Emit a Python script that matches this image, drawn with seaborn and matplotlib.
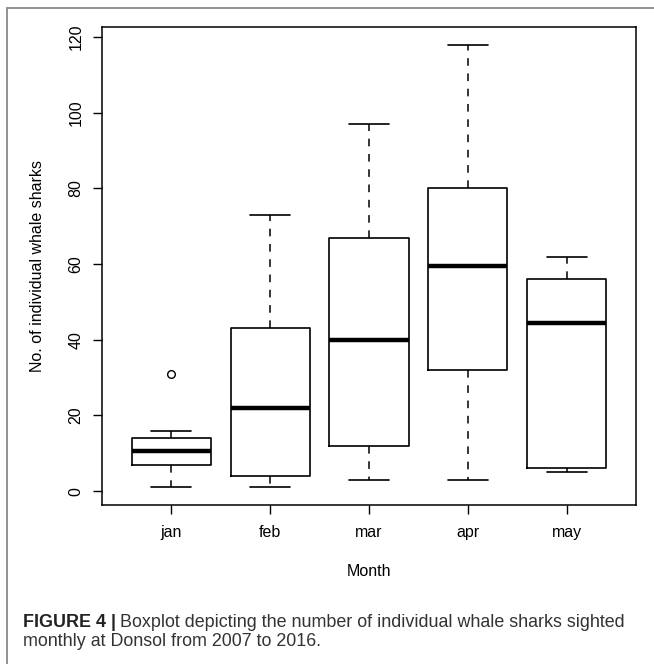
import numpy as np
import pandas as pd
import matplotlib
matplotlib.use("Agg")
import matplotlib.pyplot as plt
from matplotlib.lines import Line2D
import seaborn as sns

# ---- data (yearly counts per month, 2007-2016, estimated from the boxplot) ----
months = ["jan", "feb", "mar", "apr", "may"]
jan = [1, 5, 7, 7, 10, 11, 14, 14, 16, 31]
feb = [1, 2, 4, 4, 20, 24, 43, 43, 60, 73]
mar = [3, 8, 12, 12, 38, 42, 67, 67, 85, 97]
apr = [3, 20, 32, 32, 57, 62, 80, 80, 100, 118]
may = [5, 5, 6, 6, 44, 45, 56, 56, 60, 62]
yticks = [0, 20, 40, 60, 80, 100, 120]
xlabel = "Month"
ylabel = "No. of individual whale sharks"
caption_bold = "FIGURE 4 |"
caption_line1 = "Boxplot depicting the number of individual whale sharks sighted"
caption_line2 = "monthly at Donsol from 2007 to 2016."

df = pd.DataFrame({
    "month": np.repeat(months, [len(jan), len(feb), len(mar), len(apr), len(may)]),
    "count": jan + feb + mar + apr + may,
})

sns.set_theme(style="ticks")
plt.rcParams["font.family"] = ["Liberation Sans", "DejaVu Sans"]

W, H = 654, 664
fig = plt.figure(figsize=(W / 100, H / 100), dpi=100)
fig.patch.set_facecolor("white")
ax = fig.add_axes([102 / W, 1 - 505 / H, (636 - 102) / W, (505 - 27) / H])

sns.boxplot(
    data=df, x="month", y="count", order=months, ax=ax,
    fill=False, color="black", linecolor="black", linewidth=1.2,
    width=0.8, whis=1.5,
    medianprops={"linewidth": 3.2, "color": "black"},
    whiskerprops={"linestyle": (0, (5, 5)), "color": "black", "linewidth": 1.1},
    capprops={"color": "black", "linewidth": 1.2},
    boxprops={"color": "black"},
    flierprops={"marker": "o", "markerfacecolor": "none",
                "markeredgecolor": "black", "markersize": 5.5,
                "markeredgewidth": 1.0},
)

ax.set_xlim(-0.7, 4.7)
ax.set_ylim(-3.68, 122.68)
ax.set_yticks(yticks)
ax.set_yticklabels([str(v) for v in yticks])
for s in ax.spines.values():
    s.set_visible(True)
    s.set_color("black")
    s.set_linewidth(1.1)
ax.tick_params(axis="both", direction="out", length=6.5, width=1.0,
               color="black", labelcolor="black", labelsize=11.5)
ax.tick_params(axis="y", pad=7)
ax.tick_params(axis="x", pad=8)
for lab in ax.get_yticklabels():
    lab.set_rotation(90)
    lab.set_va("center")
ax.set_xlabel(xlabel, fontsize=11.5, color="black", labelpad=17)
ax.set_ylabel(ylabel, fontsize=11.5, color="black", labelpad=17)
ax.grid(False)

# outer frame (top and left rule)
fig.add_artist(Line2D([7 / W, 1.0], [1 - 8 / H, 1 - 8 / H], transform=fig.transFigure,
                      color="#8a8a8a", linewidth=1.3))
fig.add_artist(Line2D([7 / W, 7 / W], [1 - 8 / H, 0.0], transform=fig.transFigure,
                      color="#8a8a8a", linewidth=1.3))

# caption
cap_size = 12.9
x0 = 23 / W
t_bold = fig.text(x0, 1 - 627 / H, caption_bold, fontsize=cap_size, fontweight="bold",
                  color="#222222", ha="left", va="baseline")
fig.canvas.draw()
r = fig.canvas.get_renderer()
bb = t_bold.get_window_extent(renderer=r)
fig.text((bb.x1 + 4) / W, 1 - 627 / H, caption_line1, fontsize=cap_size,
         color="#333333", ha="left", va="baseline")
fig.text(x0, 1 - 646 / H, caption_line2, fontsize=cap_size,
         color="#333333", ha="left", va="baseline")

fig.savefig("out.png", dpi=100, facecolor="white")
